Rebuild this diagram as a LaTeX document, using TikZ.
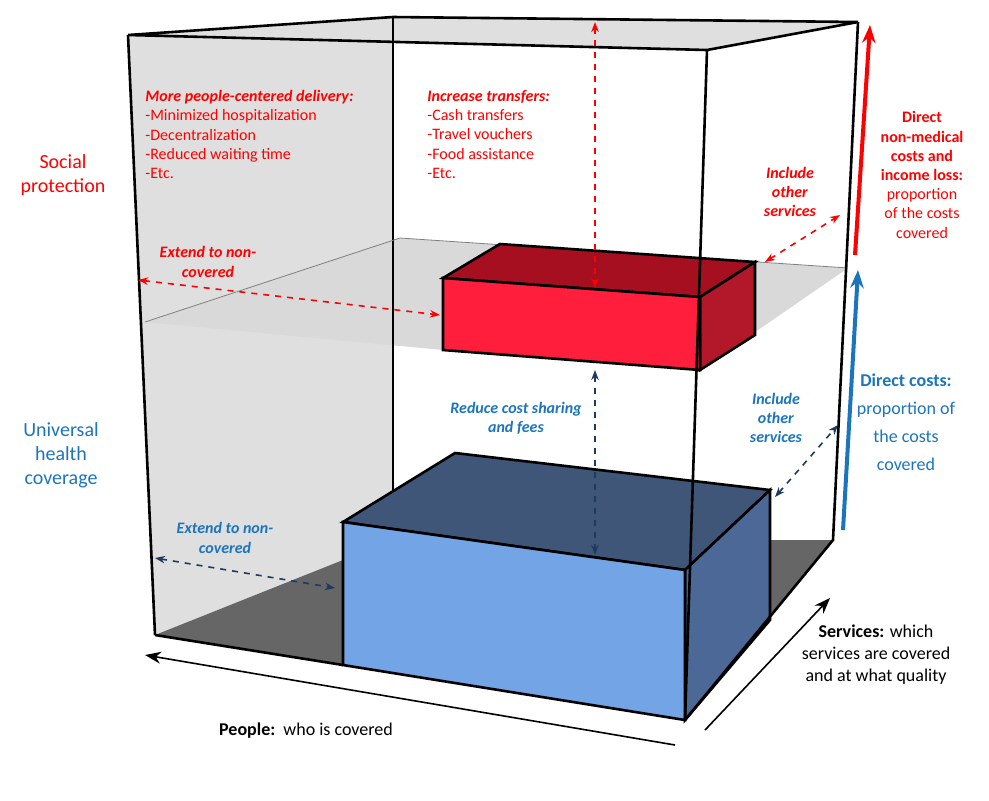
\documentclass[tikz,border=0pt]{standalone}
\usepackage{fontspec}
\setmainfont{Carlito}
\usetikzlibrary{arrows.meta}
\definecolor{redbox}{HTML}{FF1F3D}
\definecolor{redtop}{HTML}{A50F20}
\definecolor{redside}{HTML}{B3172A}
\definecolor{bluefront}{HTML}{73A4E6}
\definecolor{bluetop}{HTML}{3F5679}
\definecolor{blueside}{HTML}{4B6897}
\definecolor{blutext}{HTML}{1C75BC}
\definecolor{darkblu}{HTML}{1F3A5F}
\tikzset{
  edge/.style={line width=1.3pt},
  dashred/.style={red,dashed,thick,{Stealth[length=5pt]}-{Stealth[length=5pt]}},
  dashblue/.style={darkblu,dashed,thick,{Stealth[length=5pt]}-{Stealth[length=5pt]}},
  txt/.style={font=\fontsize{8}{9.6}\selectfont,align=left,inner sep=1pt},
  ctxt/.style={font=\fontsize{8}{9.6}\selectfont,align=center,inner sep=1pt}
}
\begin{document}
\begin{tikzpicture}[x=0.5pt,y=-0.5pt]
\useasboundingbox (0,0) rectangle (989,800);
% faces of the cube
\fill[gray!25] (128,35) -- (393,17) -- (858,22) -- (707,50) -- cycle;
\fill[gray!25] (128,35) -- (393,17) -- (393,540) -- (155,635) -- cycle;
\fill[gray!30] (145,322) -- (400,238) -- (848,268) -- (700,370) -- (443,350) -- cycle;
\fill[black!60] (155,635) -- (393,540) -- (833,540) -- (685,720) -- cycle;
\draw[edge] (393,17) -- (393,540);
\draw[thin,gray] (145,322) -- (400,238) -- (848,268);
% red box
\filldraw[edge,fill=redtop] (443,278) -- (500,244) -- (755,262) -- (700,297) -- cycle;
\filldraw[edge,fill=redside] (700,297) -- (755,262) -- (755,335) -- (700,370) -- cycle;
\filldraw[edge,fill=redbox] (443,278) -- (700,297) -- (700,370) -- (443,350) -- cycle;
% blue box
\filldraw[edge,fill=bluetop] (343,522) -- (455,453) -- (770,490) -- (685,570) -- cycle;
\filldraw[edge,fill=blueside] (685,570) -- (770,490) -- (770,620) -- (685,720) -- cycle;
\filldraw[edge,fill=bluefront] (343,522) -- (685,570) -- (685,720) -- (343,665) -- cycle;
% outer edges
\draw[edge] (128,35) -- (393,17) -- (858,22) -- (707,50) -- cycle;
\draw[edge] (128,35) -- (155,635);
\draw[edge] (707,50) -- (685,720);
\draw[edge] (858,22) -- (833,540) -- (685,720);
\draw[edge] (155,635) -- (343,665);
% axes
\coordinate (pl) at (145,655); \coordinate (pr) at (675,745);
\coordinate (sl) at (705,730); \coordinate (sr) at (830,598);
\draw[thick,-{Stealth[length=8pt]}] (pr) -- (pl);
\draw[thick,-{Stealth[length=8pt]}] (sl) -- (sr);
\coordinate (ra) at (855,255); \coordinate (rb) at (870,25);
\coordinate (ba) at (843,530); \coordinate (bb) at (858,270);
\draw[red,line width=2pt,-{Stealth[length=9pt]}] (ra) -- (rb);
\draw[blutext,line width=2pt,-{Stealth[length=9pt]}] (ba) -- (bb);
% dashed arrows
\coordinate (r1a) at (595,22); \coordinate (r1b) at (595,288);
\coordinate (r2a) at (138,280); \coordinate (r2b) at (440,315);
\coordinate (r3a) at (765,262); \coordinate (r3b) at (840,215);
\draw[dashred] (r1a) -- (r1b);
\draw[dashred] (r2a) -- (r2b);
\draw[dashred] (r3a) -- (r3b);
\coordinate (b1a) at (595,370); \coordinate (b1b) at (595,555);
\coordinate (b2a) at (155,558); \coordinate (b2b) at (335,588);
\coordinate (b3a) at (775,497); \coordinate (b3b) at (838,425);
\draw[dashblue] (b1a) -- (b1b);
\draw[dashblue] (b2a) -- (b2b);
\draw[dashblue] (b3a) -- (b3b);
% labels
\node[ctxt,red,font=\fontsize{10}{12}\selectfont] (sp) at (63,175) {Social\\protection};
\node[ctxt,blutext,font=\fontsize{10}{12}\selectfont] (uhc) at (61,455) {Universal\\health\\coverage};
\node[txt,red,anchor=north west] (pcd) at (143,88) {\textbf{\textit{More people-centered delivery:}}\\-Minimized hospitalization\\-Decentralization\\-Reduced waiting time\\-Etc.};
\node[txt,red,anchor=north west] (inc) at (425,88) {\textbf{\textit{Increase transfers:}}\\-Cash transfers\\-Travel vouchers\\-Food assistance\\-Etc.};
\node[ctxt,red] (ios) at (790,192) {\textbf{\textit{Include}}\\\textbf{\textit{other}}\\\textbf{\textit{services}}};
\node[ctxt,red] (ext) at (208,262) {\textbf{\textit{Extend to non-}}\\\textbf{\textit{covered}}};
\node[ctxt,red] (dnm) at (922,175) {\textbf{Direct}\\\textbf{non-medical}\\\textbf{costs and}\\\textbf{income loss:}\\proportion\\of the costs\\covered};
\node[ctxt,blutext] (rcs) at (516,418) {\textbf{\textit{Reduce cost sharing}}\\\textbf{\textit{and fees}}};
\node[ctxt,blutext] (ios2) at (776,418) {\textbf{\textit{Include}}\\\textbf{\textit{other}}\\\textbf{\textit{services}}};
\node[ctxt,blutext] (ext2) at (225,538) {\textbf{\textit{Extend to non-}}\\\textbf{\textit{covered}}};
\node[ctxt,blutext,font=\fontsize{9}{14}\selectfont] (dc) at (906,422) {\textbf{Direct costs:}\\proportion of\\the costs\\covered};
\node[ctxt,font=\fontsize{9}{11}\selectfont] (srv) at (876,655) {\textbf{Services:} which\\services are covered\\and at what quality};
\node[txt,font=\fontsize{9}{11}\selectfont] (ppl) at (306,731) {\textbf{People:}\ \ who is covered};
\end{tikzpicture}
\end{document}
